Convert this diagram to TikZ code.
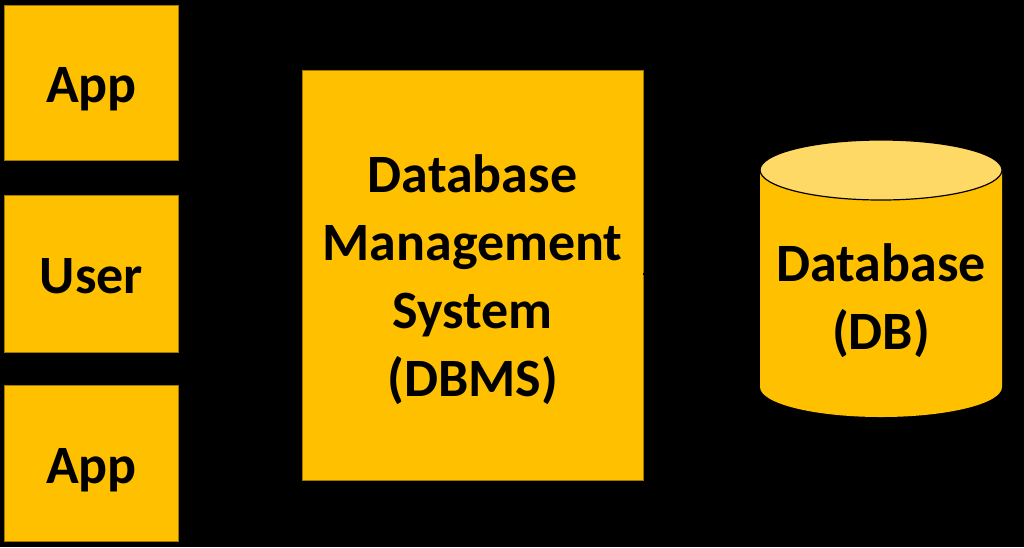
\documentclass[tikz,border=0pt]{standalone}
\usepackage{fontspec}
\setmainfont{Carlito}
\definecolor{gold}{HTML}{FFC000}
\definecolor{goldlight}{HTML}{FFD966}
\definecolor{golddark}{HTML}{A07800}
\begin{document}
\begin{tikzpicture}[x=1pt,y=-1pt,
  lbl/.style={font=\fontsize{54}{68}\selectfont\bfseries, text=black, align=center},
  ybox/.style={fill=gold, draw=golddark, line width=0.8pt, inner sep=0pt},
  txt/.style={lbl, anchor=center}]
\fill[black] (0,0) rectangle (1024,547);
\useasboundingbox (0,0) rectangle (1024,547);
\node[ybox, minimum width=174pt, minimum height=155pt] (app1) at (91.5,82.5) {};
\node[ybox, minimum width=174pt, minimum height=157pt] (user) at (91.5,273.5) {};
\node[ybox, minimum width=174pt, minimum height=156pt] (app2) at (91.5,463) {};
\node[ybox, minimum width=341pt, minimum height=410pt] (dbms) at (472.5,275) {};
\node[txt] (t1) at ([yshift=-7pt]app1.center) {App};
\node[txt] (t2) at ([yshift=-3pt]user.center) {User};
\node[txt] (t3) at ([yshift=-7pt]app2.center) {App};
\node[txt] (t4) at ([yshift=-5pt]dbms.center) {Database\\Management\\System\\(DBMS)};
% cylinder
\fill[gold] (760,170) -- (760,387) arc[start angle=180, end angle=0, x radius=121, y radius=30] -- (1002,170) -- cycle;
\fill[goldlight, draw=black, line width=1.2pt] (881,170) ellipse[x radius=121, y radius=30];
\coordinate (cyl) at (881,301);
\node[txt] (db) at (cyl) {Database\\(DB)};
\coordinate (dbl) at (760,274);
\draw[black, line width=1.5pt] (dbms.east |- dbl) -- (dbl);
\end{tikzpicture}
\end{document}
